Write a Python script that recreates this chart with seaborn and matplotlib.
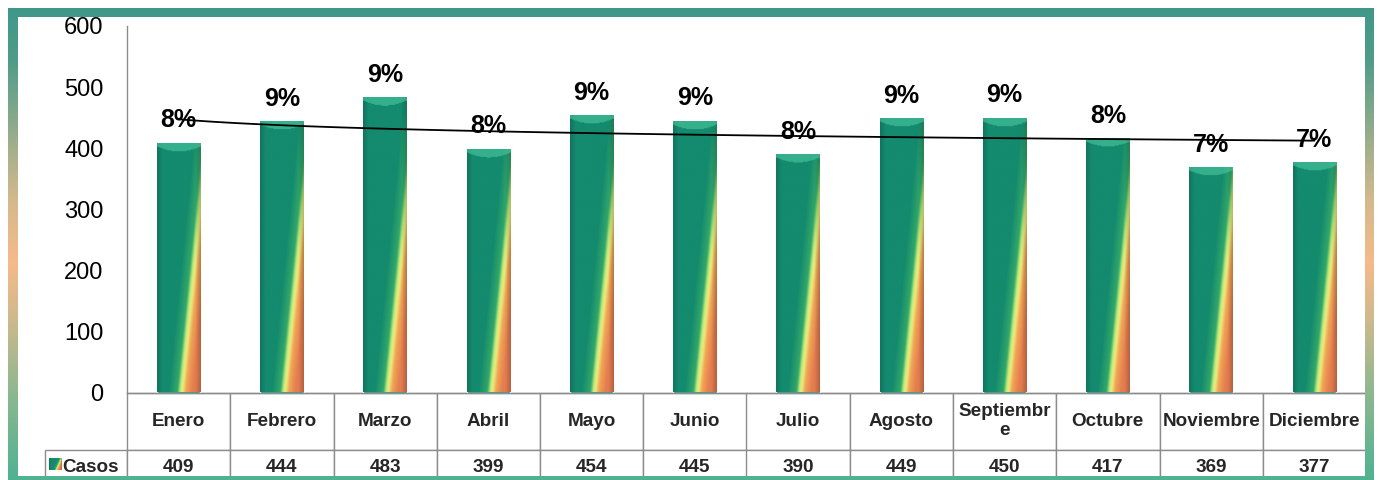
import numpy as np
import pandas as pd
import matplotlib
matplotlib.use("Agg")
import matplotlib.pyplot as plt
from matplotlib.table import Table
import seaborn as sns

# Datos del gráfico
meses = ['Enero', 'Febrero', 'Marzo', 'Abril', 'Mayo', 'Junio', 'Julio',
         'Agosto', 'Septiembre', 'Octubre', 'Noviembre', 'Diciembre']
casos = [409, 444, 483, 399, 454, 445, 390, 449, 450, 417, 369, 377]
porcentajes = ['8%', '9%', '9%', '8%', '9%', '9%', '8%', '9%', '9%', '8%', '7%', '7%']
serie = 'Casos'
y_ticks = [0, 100, 200, 300, 400, 500, 600]

df = pd.DataFrame({'mes': meses, 'mes_num': np.arange(1, len(meses) + 1), 'casos': casos})

ALTO_EJE_PX = 366.5
PX_POR_UNIDAD = ALTO_EJE_PX / 600  # escala vertical aproximada en pixeles


def textura_barra(alto, n_filas=300, n_cols=64, tapa=True):
    """Textura tipo Excel: verde azulado con franja diagonal amarilla/naranja."""
    u = np.linspace(0, 1, n_cols)[None, :]
    v = np.linspace(0, alto, n_filas)[:, None]
    d = u - (0.56 + 0.44 * v / 310.0)
    stops = [-2, -0.30, -0.10, -0.03, 0.02, 0.10, 0.25, 2]
    cols = np.array([[20, 138, 110], [20, 138, 110], [50, 168, 106], [190, 236, 122],
                     [238, 234, 125], [240, 165, 85], [228, 125, 80], [214, 102, 74]]) / 255
    rgb = np.stack([np.interp(d, stops, cols[:, k]) for k in range(3)], axis=-1)
    # sombreado de cilindro
    sombra = 1 - 0.15 * np.clip((0.12 - u) / 0.12, 0, 1) - 0.2 * np.clip((u - 0.88) / 0.12, 0, 1)
    rgb = rgb * sombra[..., None]
    if tapa:
        dist_px = (alto - v) * PX_POR_UNIDAD
        cap = 4 + 5 * (1 - (2 * u - 1) ** 2)
        mask = dist_px < cap
        cap_color = np.array([75, 200, 160]) / 255
        rgb = np.where(mask[..., None], rgb * 0.4 + cap_color * 0.6, rgb)
    return np.clip(rgb, 0, 1)


sns.set_theme(style='white')
plt.rcParams['font.family'] = ['Liberation Sans', 'DejaVu Sans']

fig = plt.figure(figsize=(13.78, 4.8), dpi=100)
fig.patch.set_facecolor('white')
ax = fig.add_axes([127 / 1378, 87.5 / 480, 1239 / 1378, ALTO_EJE_PX / 480])

sns.barplot(data=df, x='mes_num', y='casos', native_scale=True, width=0.42,
            color='#14896d', saturation=1, ax=ax)

# relleno degradado de cada barra, recortado a la barra
for barra in ax.patches:
    x0, w, h = barra.get_x(), barra.get_width(), barra.get_height()
    im = ax.imshow(textura_barra(h), extent=[x0, x0 + w, 0, h], origin='lower',
                   aspect='auto', interpolation='bilinear', zorder=1.5)
    im.set_clip_path(barra)

# línea de tendencia logarítmica
sns.regplot(data=df, x='mes_num', y='casos', logx=True, scatter=False, ci=None,
            color='black', line_kws={'lw': 1.3, 'zorder': 3}, ax=ax)

# etiquetas de porcentaje
for x, y, t in zip(df['mes_num'], casos, porcentajes):
    ax.annotate(t, (x, y), xytext=(0, 11), textcoords='offset points', ha='center',
                va='baseline', fontsize=18, fontweight='bold', color='black', zorder=4)

ax.set_xlim(0.5, len(meses) + 0.5)
ax.set_ylim(0, 600)
ax.set_yticks(y_ticks)
ax.set_xticks([])
ax.set(xlabel='', ylabel='')
ax.tick_params(axis='y', length=0, pad=17, labelsize=17, labelcolor='black')
for lado in ['top', 'right']:
    ax.spines[lado].set_visible(False)
for lado in ['left', 'bottom']:
    ax.spines[lado].set_color('#8c8c8c')
    ax.spines[lado].set_linewidth(1)

# tabla de datos bajo el eje (anchos y altos en coordenadas del eje)
etiquetas = [m if len(m) < 10 else m[:9] + '\n' + m[9:] for m in meses]
n = len(meses)
h_enc = 57 / ALTO_EJE_PX
h_dat = 36 / ALTO_EJE_PX
tabla = Table(ax, bbox=[0, -(h_enc + h_dat), 1, h_enc + h_dat])
borde = '#8c8c8c'
for j, et in enumerate(etiquetas):
    c = tabla.add_cell(0, j, width=1 / n, height=h_enc, text=et, loc='center',
                       edgecolor=borde, facecolor='white')
    c.get_text().set_linespacing(1.1)
    tabla.add_cell(1, j, width=1 / n, height=h_dat, text=str(casos[j]), loc='center',
                   edgecolor=borde, facecolor='white')
tabla.add_cell(1, -1, width=0.794 / n, height=h_dat, text=serie, loc='right',
               edgecolor=borde, facecolor='white')
tabla.auto_set_font_size(False)
tabla.set_fontsize(13.6)
for celda in tabla.get_celld().values():
    celda.get_text().set_fontweight('bold')
    celda.set_linewidth(1)
ax.add_table(tabla)

# marcador de leyenda junto a "Casos"
ax_ley = fig.add_axes([49 / 1378, (480 - 470) / 480, 12 / 1378, 12 / 480], zorder=11)
ax_ley.imshow(textura_barra(300, 24, 24, tapa=False), origin='lower', aspect='auto')
ax_ley.axis('off')

# marco degradado alrededor del gráfico
H, W = 480, 1378
yy = np.arange(H)[:, None]
xx = np.arange(W)[None, :]
marco = ((xx >= 8) & (xx < 1374) & (yy >= 8)) & ~((xx >= 18) & (xx < 1365) & (yy >= 17) & (yy < 476))
y_stops = [0, 60, 150, 200, 262, 320, 400, 480]
y_cols = np.array([[61, 151, 136], [80, 156, 137], [165, 176, 140], [212, 185, 140],
                   [246, 186, 138], [205, 185, 141], [135, 183, 144], [78, 178, 146]]) / 255
grad = np.stack([np.interp(np.arange(H), y_stops, y_cols[:, k]) for k in range(3)], axis=-1)
rgba = np.zeros((H, W, 4))
rgba[..., :3] = grad[:, None, :]
rgba[..., 3] = marco
ax_marco = fig.add_axes([0, 0, 1, 1], zorder=10)
ax_marco.imshow(rgba, extent=[0, W, H, 0], interpolation='nearest', aspect='auto')
ax_marco.set_xlim(0, W)
ax_marco.set_ylim(H, 0)
ax_marco.axis('off')

fig.savefig('out.png', dpi=100, facecolor='white')
plt.close(fig)
